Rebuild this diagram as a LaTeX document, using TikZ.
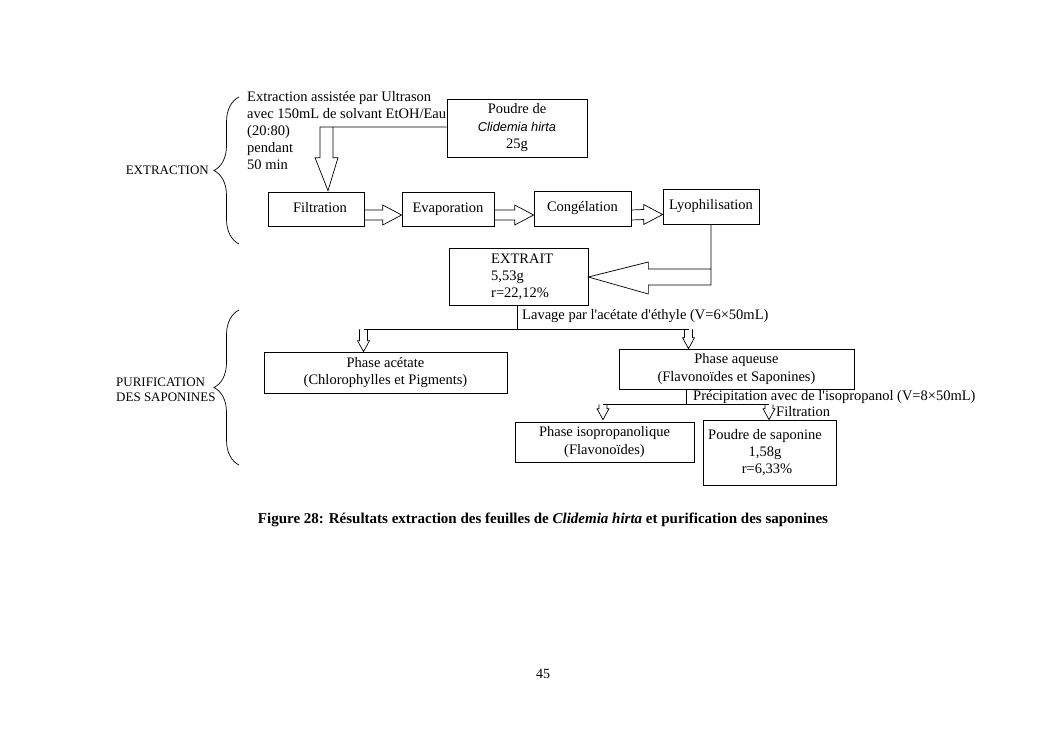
\documentclass[tikz,border=0pt]{standalone}
\usepackage{fontspec}
\setmainfont{Liberation Serif}[Ligatures=TeXOff]
\newfontfamily\sansit{Liberation Sans}
\usetikzlibrary{calc,decorations.pathreplacing}
\newcommand\blkright[2]{\draw[blk] ($(#1)+(0,-5)$) -- ($(#2)+(-19,-5)$) -- ($(#2)+(-19,-10)$) -- (#2) -- ($(#2)+(-19,10)$) -- ($(#2)+(-19,5)$) -- ($(#1)+(0,5)$);}
\newcommand\smalldown[2]{\draw[blk] ($(#1)+(-4,0)$) -- ($(#2)+(-4,-11)$) -- ($(#2)+(-6,-11)$) -- (#2) -- ($(#2)+(6,-11)$) -- ($(#2)+(4,-11)$) -- ($(#1)+(4,0)$);}
\begin{document}
\begin{tikzpicture}[x=1pt,y=-1pt,
  box/.style={draw, line width=0.7pt, inner sep=0pt, align=center, font=\fontsize{14.5}{17.5}\selectfont},
  one/.style={text height=10pt, text depth=3.5pt},
  txt/.style={inner sep=0pt, font=\fontsize{14.5}{17}\selectfont},
  side/.style={inner sep=0pt, align=left, font=\fontsize{13}{15}\selectfont},
  blk/.style={line width=0.7pt},
  conn/.style={line width=0.7pt},
  brc/.style={line width=0.7pt, decorate, decoration={brace, amplitude=25pt}}]
\useasboundingbox (0,0) rectangle (1053,745);
% boxes
\node[box, minimum width=140, minimum height=58] (poudre) at (517,128) {Poudre de\\{\sansit\itshape\fontsize{12.8}{17}\selectfont Clidemia hirta}\\25g};
\node[box, one, minimum width=96, minimum height=34] (fil) at (316,209) {\hspace*{8pt}Filtration};
\node[box, one, minimum width=92, minimum height=34] (evap) at (448,209) {Evaporation};
\node[box, one, minimum width=97, minimum height=35] (cong) at (582.5,208.5) {Congélation};
\node[box, one, minimum width=96, minimum height=35] (lyo) at (711,206.5) {Lyophilisation};
\node[box, minimum width=139, minimum height=57] (extrait) at (518.5,276.5) {};
\node[txt, align=left, anchor=north west] (extraittxt) at (491,253.5) {EXTRAIT\\5,53g\\r=22,12\%};
\node[box, minimum width=243, minimum height=41] (acet) at (385.5,372.5) {Phase acétate\\(Chlorophylles et Pigments)};
\node[box, minimum width=235, minimum height=40] (aq) at (736.5,369) {Phase aqueuse\\(Flavonoïdes et Saponines)};
\node[box, minimum width=179, minimum height=40] (iso) at (604.5,442) {Phase isopropanolique\\(Flavonoïdes)};
\node[box, minimum width=133, minimum height=65] (sap) at (769.5,452.5) {};
\node[txt, align=center] (saptxt) at (765,453) {Poudre de saponine\\1,58g\\\hspace*{4pt}r=6,33\%};
% side text
\node[txt, align=left, anchor=north west] (ultra) at (247,91) {Extraction assistée par Ultrason\\avec 150mL de solvant EtOH/Eau\\(20:80)\\pendant\\50 min};
\node[side, anchor=east] (lextr) at (209,170) {EXTRACTION};
\node[side, anchor=west] (lpur) at (116,390) {PURIFICATION\\DES SAPONINES};
% braces
\draw[brc] (239,244) -- (239,97);
\draw[brc] (239,465) -- (239,310);
% Poudre -> Filtration
\coordinate (pw) at ($(poudre.west)+(0,-1)$);
\coordinate (ftop) at ($(fil.north)+(12,-1)$);
\draw[blk] (pw) -- ($(ftop |- pw)+(5,0)$) -- ($(ftop)+(5,-33)$) -- ($(ftop)+(10,-33)$) -- (ftop) -- ($(ftop)+(-13,-33)$) -- ($(ftop)+(-8,-33)$) -- ($(ftop |- pw)+(-8,0)$) -- ($(ftop |- pw)+(5,0)$);
% horizontal block arrows
\coordinate (a1) at ($(fil.east)+(0,6)$);  \coordinate (b1) at ($(evap.west)+(0,6)$);
\coordinate (a2) at ($(evap.east)+(0,6)$); \coordinate (b2) at ($(cong.west)+(0,6.5)$);
\coordinate (a3) at ($(cong.east)+(0,6.5)$); \coordinate (b3) at ($(lyo.west)+(0,8)$);
\blkright{a1}{b1}
\blkright{a2}{b2}
\blkright{a3}{b3}
% Lyophilisation -> EXTRAIT
\coordinate (ltip) at ($(extrait.east)+(0,0.5)$);
\draw[blk] (lyo.south) -- ($(lyo.south |- ltip)+(0,8)$) -- ($(ltip)+(60,8)$) -- ($(ltip)+(60,17)$) -- (ltip) -- ($(ltip)+(60,-15)$) -- ($(ltip)+(60,-8)$) -- ($(lyo.south |- ltip)+(0,-8)$);
% EXTRAIT -> phases
\coordinate (j1) at ($(extrait.south)+(-1.5,24)$);
\coordinate (acettop) at ($(acet.north)+(-22,0)$);
\coordinate (aqtop) at ($(aq.north)+(-48,0)$);
\draw[conn] ($(extrait.south)+(-1.5,0)$) -- (j1);
\draw[conn] (acettop |- j1) -- (aqtop |- j1);
\smalldown{acettop |- j1}{acettop}
\smalldown{aqtop |- j1}{aqtop}
\node[txt, anchor=west] (lav) at (522,316) {Lavage par l'acétate d'éthyle (V=6×50mL)};
% Phase aqueuse -> products
\coordinate (j2) at ($(aq.south)+(-50.5,15)$);
\coordinate (isotop) at ($(iso.north)+(-1.5,-2)$);
\coordinate (saptop) at ($(sap.north)+(-0.5,0)$);
\draw[conn] ($(aq.south)+(-50.5,0)$) -- (j2);
\draw[conn] (isotop |- j2) -- (saptop |- j2);
\smalldown{isotop |- j2}{isotop}
\smalldown{saptop |- j2}{saptop}
\node[txt, anchor=west] (prec) at (693,397) {Précipitation avec de l'isopropanol (V=8×50mL)};
\node[txt, anchor=west] (filt) at (776,412) {Filtration};
% caption and page number
\node[inner sep=0pt, font=\fontsize{15}{17}\selectfont\bfseries] (cap) at (543,520) {Figure 28: Résultats extraction des feuilles de \textit{Clidemia hirta} et purification des saponines};
\node[inner sep=0pt, font=\fontsize{14}{16}\selectfont] (page) at (543,674) {45};
\end{tikzpicture}
\end{document}
